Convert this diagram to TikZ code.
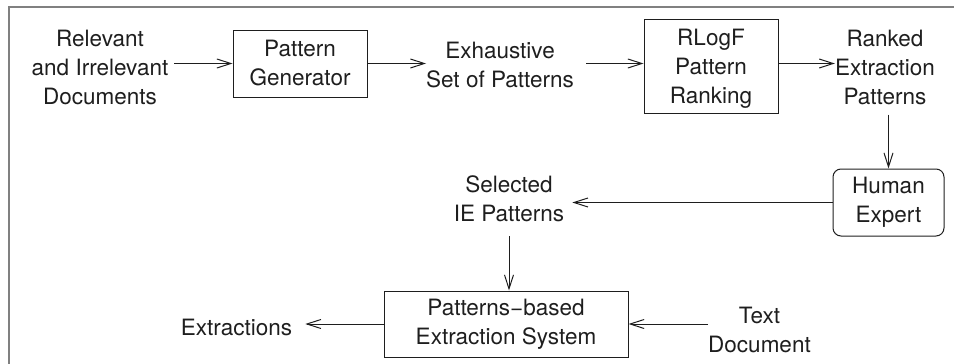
\documentclass[tikz,border=0pt]{standalone}
\usepackage{fontspec}
\setmainfont{TeX Gyre Heros}
\usetikzlibrary{arrows.meta}
\definecolor{ink}{RGB}{30,30,30}

\begin{document}
\begin{tikzpicture}[x=1pt,y=-1pt,
  every node/.style={font=\fontsize{22.5}{29}\selectfont,align=center,inner sep=0pt,text=ink},
  blk/.style={draw=ink,line width=1pt},
  flow/.style={draw=ink,line width=1pt,-{Straight Barb[length=14pt,width=9pt]}}]
  \useasboundingbox (0,0) rectangle (954,364);
  \draw[gray,line width=1.3pt] (9,364) -- (9,7) -- (954,7);
  % top row
  \node (docs) at (100,67) {Relevant\\and Irrelevant\\Documents};
  \node[blk,minimum width=134pt,minimum height=67pt] (gen) at (300,63.5) {Pattern\\Generator};
  \node (set) at (500,65) {Exhaustive\\Set of Patterns};
  \node[blk,minimum width=134pt,minimum height=94pt,text depth=0pt] (rank) at (711,66) {RLogF\\Pattern\\Ranking};
  \node (ranked) at (885,67) {Ranked\\Extraction\\Patterns};
  % middle and bottom
  \node[blk,rounded corners=8pt,minimum width=111pt,minimum height=67pt] (human) at (888.5,202.5) {Human\\Expert};
  \node (sel) at (509,199) {Selected\\IE Patterns};
  \node[blk,minimum width=244pt,minimum height=66pt] (sys) at (506,324) {Patterns−based\\Extraction System};
  \node (extr) at (236.5,327) {Extractions};
  \node (tdoc) at (759.5,329.5) {Text\\Document};
  \draw[flow,shorten <=6pt] (docs.east |- gen.west) -- (gen.west);
  \draw[flow] (gen.east) -- (set.west |- gen.east);
  \draw[flow,shorten <=12pt] (set.east |- gen.east) -- (rank.west |- gen.east);
  \draw[flow] (rank.east |- gen.east) -- (ranked.west |- gen.east);
  \draw[flow,shorten <=10pt] (human.north |- ranked.south) -- (human.north);
  \draw[flow,shorten >=8pt] (human.west) -- (sel.east |- human.west);
  \draw[flow,shorten <=14pt] (sel.south) -- (sel.south |- sys.north);
  \draw[flow,shorten >=13pt] (sys.west) -- (extr.east |- sys.west);
  \draw[flow] (tdoc.west |- sys.east) -- (sys.east);
\end{tikzpicture}
\end{document}
